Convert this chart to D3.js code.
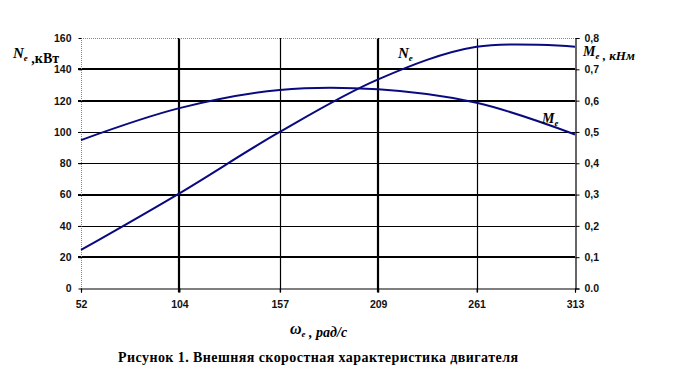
<!DOCTYPE html>
<html><head><meta charset="utf-8">
<script src="https://cdn.jsdelivr.net/npm/d3@7"></script>
<style>
html,body{margin:0;padding:0;background:#fff;}
svg{display:block;}
.tick text{font-family:"Liberation Sans",Arial,sans-serif;font-size:10.5px;font-weight:bold;fill:#111;}
</style></head>
<body><svg id="c" width="682" height="383"></svg>
<script>
const omega = [52, 104, 157, 209, 261, 313];
const powerN = [24.6, 60.8, 100, 133.6, 154.4, 154.4];
const torqueM = [0.474, 0.576, 0.634, 0.636, 0.593, 0.492];
const leftTicks = [0, 20, 40, 60, 80, 100, 120, 140, 160];
const rightTicks = [0, 0.1, 0.2, 0.3, 0.4, 0.5, 0.6, 0.7, 0.8];
const rightTickLabels = ["0.0", "0,1", "0,2", "0,3", "0,4", "0,5", "0,6", "0,7", "0,8"];
const thickH = [20, 60, 120, 140];
const thickV = [104, 209];
const caption = "Рисунок 1. Внешняя скоростная характеристика двигателя";

const svg = d3.select("#c");
const L = 81, R = 575, T = 38, B = 288.5;
const x = d3.scaleLinear().domain([52, 313]).range([L, R]);
const yL = d3.scaleLinear().domain([0, 160]).range([B, T]);
const yR = d3.scaleLinear().domain([0, 0.8]).range([B, T]);

// horizontal gridlines
leftTicks.filter(v => v > 0 && v < 160).forEach(v => {
  const thick = thickH.includes(v);
  const yy = thick ? Math.round(yL(v)) : Math.round(yL(v)) + 0.5;
  svg.append("line").attr("x1", L - 3).attr("x2", R).attr("y1", yy).attr("y2", yy)
    .attr("stroke", "#000").attr("stroke-width", thick ? 2.2 : 1.2);
});
// vertical gridlines
omega.filter(v => v > 52 && v < 313).forEach(v => {
  const thick = thickV.includes(v);
  const xx = thick ? Math.round(x(v)) : Math.round(x(v)) + 0.5;
  svg.append("line").attr("x1", xx).attr("x2", xx).attr("y1", T).attr("y2", B + 4)
    .attr("stroke", "#000").attr("stroke-width", thick ? 2.2 : 1.2);
});
// plot borders (dotted grey top / left)
svg.append("line").attr("x1", L + 0.5).attr("x2", L + 0.5).attr("y1", T).attr("y2", B)
  .attr("stroke", "#888").attr("stroke-dasharray", "1,1");
svg.append("line").attr("x1", L).attr("x2", R).attr("y1", T + 0.5).attr("y2", T + 0.5)
  .attr("stroke", "#888").attr("stroke-dasharray", "1,1");

// axes
const axL = svg.append("g").attr("transform", `translate(${L + 0.5},0)`)
  .call(d3.axisLeft(yL).tickValues(leftTicks).tickFormat(d3.format("d")).tickSize(3).tickPadding(7));
axL.select(".domain").remove();
axL.selectAll("line").attr("stroke", "#000");

const axR = svg.append("g").attr("transform", `translate(${R + 0.5},0)`)
  .call(d3.axisRight(yR).tickValues(rightTicks).tickFormat((d, i) => rightTickLabels[i]).tickSize(4).tickPadding(5));
axR.select(".domain").attr("stroke", "#000").attr("stroke-width", 1.2);
axR.selectAll("line").attr("stroke", "#000");

const axB = svg.append("g").attr("transform", `translate(0,${B})`)
  .call(d3.axisBottom(x).tickValues(omega).tickFormat(d3.format("d")).tickSize(4).tickPadding(8));
axB.select(".domain").attr("stroke", "#000").attr("stroke-width", 1.2);
axB.selectAll("line").attr("stroke", "#000");

// curves
const curve = d3.curveCatmullRom.alpha(0.5);
const lineN = d3.line().x((d, i) => x(omega[i])).y(d => yL(d)).curve(curve);
const lineM = d3.line().x((d, i) => x(omega[i])).y(d => yR(d)).curve(curve);
svg.append("path").attr("d", lineN(powerN)).attr("fill", "none").attr("stroke", "#0a0a80").attr("stroke-width", 2);
svg.append("path").attr("d", lineM(torqueM)).attr("fill", "none").attr("stroke", "#0a0a80").attr("stroke-width", 2);

// labels
const serif = '"Liberation Serif","Times New Roman",serif';
function subLabel(px, py, main, sub, rest, mainSize, restStyle) {
  const t = svg.append("text").attr("x", px).attr("y", py).attr("font-family", serif)
    .attr("font-weight", "bold").attr("fill", "#000");
  t.append("tspan").attr("font-style", "italic").attr("font-size", mainSize).text(main);
  t.append("tspan").attr("font-style", "italic").attr("font-size", 9).attr("dy", 3).text(sub);
  if (rest) t.append("tspan").attr("font-size", restStyle.size).attr("font-style", restStyle.italic ? "italic" : "normal")
    .attr("dy", restStyle.dy).text(rest);
  return t;
}
subLabel(13, 58, "N", "е", " ,кВт", 15, {size: 14, italic: false, dy: 2});
subLabel(583, 56, "M", "е", " , кНм", 14, {size: 13, italic: true, dy: 1});
subLabel(398, 58, "N", "е", null, 15, {});
subLabel(542, 123, "M", "е", null, 14, {});

// x axis title
const xt = svg.append("text").attr("x", 290).attr("y", 334).attr("font-family", serif)
  .attr("font-weight", "bold").attr("font-style", "italic").attr("fill", "#000");
xt.append("tspan").attr("font-size", 16).text("ω");
xt.append("tspan").attr("font-size", 9).attr("dy", 3).text("е");
xt.append("tspan").attr("font-size", 14).attr("dy", 0).text(" , рад/с");

// caption
svg.append("text").attr("x", 118).attr("y", 362).attr("font-family", serif)
  .attr("font-weight", "bold").attr("font-size", 14).attr("fill", "#000")
  .attr("textLength", 400).attr("lengthAdjust", "spacing").text(caption);
</script></body></html>
